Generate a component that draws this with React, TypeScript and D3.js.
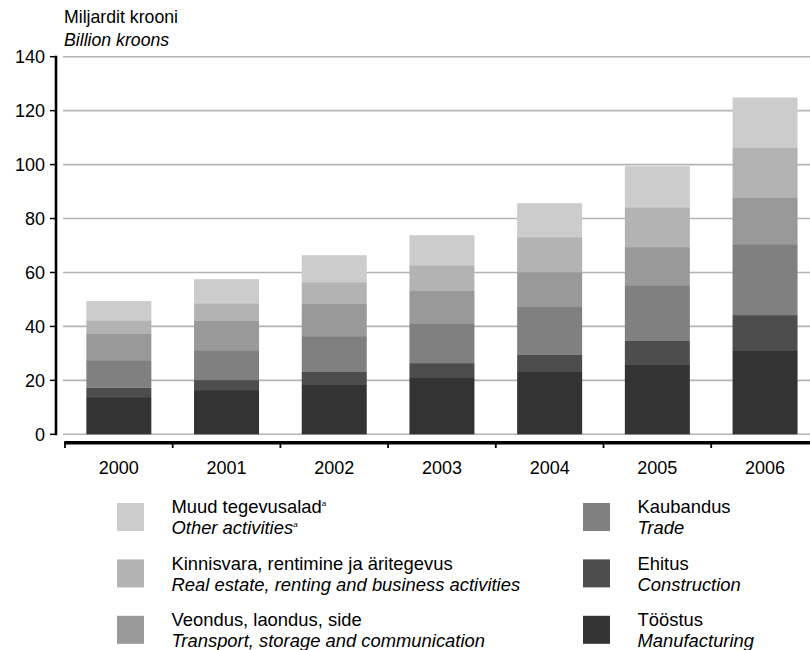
import React from "react";
import * as d3 from "d3";

const years = ["2000", "2001", "2002", "2003", "2004", "2005", "2006"];
const manufacturing = [13.8, 16.4, 18.6, 21.2, 23.1, 26.0, 31.2];
const construction = [3.4, 3.7, 4.5, 5.2, 6.3, 8.6, 13.0];
const trade = [10.3, 11.1, 13.3, 14.8, 17.8, 20.7, 26.3];
const transport = [9.7, 10.8, 11.9, 12.2, 12.9, 14.1, 17.4];
const realEstate = [5.1, 6.6, 8.1, 9.3, 13.0, 14.8, 18.5];
const other = [7.1, 8.9, 10.0, 11.1, 12.6, 15.2, 18.5];
const yTicks = [0, 20, 40, 60, 80, 100, 120, 140];

const seriesKeys = ["manufacturing", "construction", "trade", "transport", "realEstate", "other"];
const seriesValues: Record<string, number[]> = {
  manufacturing, construction, trade, transport, realEstate, other,
};
const colors: Record<string, string> = {
  manufacturing: "#333333",
  construction: "#4d4d4d",
  trade: "#808080",
  transport: "#999999",
  realEstate: "#b3b3b3",
  other: "#cccccc",
};

const legendLeft = [
  { key: "other", et: "Muud tegevusalad", en: "Other activities", sup: true },
  { key: "realEstate", et: "Kinnisvara, rentimine ja äritegevus", en: "Real estate, renting and business activities", sup: false },
  { key: "transport", et: "Veondus, laondus, side", en: "Transport, storage and communication", sup: false },
];
const legendRight = [
  { key: "trade", et: "Kaubandus", en: "Trade", sup: false },
  { key: "construction", et: "Ehitus", en: "Construction", sup: false },
  { key: "manufacturing", et: "Tööstus", en: "Manufacturing", sup: false },
];

const FONT = "'Liberation Sans', Arial, sans-serif";
const FS_TITLE = 17.7;
const FS_AXIS = 18;
const FS_LEG = 18.4;

export default function App() {
  const table = years.map((y, i) => {
    const row: any = { year: y };
    seriesKeys.forEach((k) => (row[k] = seriesValues[k][i]));
    return row;
  });
  const stacked = d3.stack<any>().keys(seriesKeys)(table);

  const step = 107.7;
  const x = d3.scaleBand<string>().domain(years).range([65, 65 + step * years.length]).padding(0);
  const barW = 65;
  const y = d3.scaleLinear().domain([0, 140]).range([434.3, 56.7]);

  const renderLegend = (items: typeof legendLeft, sx: number) =>
    items.map((it, i) => {
      const top = 503 + i * 56.4;
      return (
        <g key={it.key}>
          <rect x={sx} y={top} width={27} height={28} fill={colors[it.key]} />
          <text x={sx + 54.5} y={top + 10.4} fontSize={FS_LEG} fill="#000">
            {it.et}
            {it.sup && <tspan fontSize={8} dy={-7}>a</tspan>}
          </text>
          <text x={sx + 54.5} y={top + 31.4} fontSize={FS_LEG} fontStyle="italic" fill="#000">
            {it.en}
            {it.sup && <tspan fontSize={8} dy={-7}>a</tspan>}
          </text>
        </g>
      );
    });

  return (
    <svg
      width={810}
      height={650}
      style={{ position: "absolute", left: 0, top: 0, background: "#fff" }}
      fontFamily={FONT}
    >
      <rect x={0} y={0} width={810} height={650} fill="#fff" />
      <text x={64} y={22.7} fontSize={FS_TITLE}>Miljardit krooni</text>
      <text x={64} y={46} fontSize={FS_TITLE} fontStyle="italic">Billion kroons</text>

      {yTicks.map((t) => (
        <g key={t}>
          <line x1={63} x2={810} y1={y(t)} y2={y(t)} stroke="#b4b4b4" strokeWidth={1.6} />
          <line x1={50} x2={56} y1={y(t)} y2={y(t)} stroke="#000" strokeWidth={1.5} />
          <text x={45} y={y(t)} dy="0.36em" textAnchor="end" fontSize={FS_AXIS}>{t}</text>
        </g>
      ))}
      <line x1={56} x2={56} y1={y(140) - 1} y2={y(0) + 1} stroke="#000" strokeWidth={2.6} />

      {stacked.map((s) => (
        <g key={s.key} fill={colors[s.key]}>
          {s.map((d, i) => (
            <rect
              key={i}
              x={(x(years[i]) as number) + (x.bandwidth() - barW) / 2}
              y={y(d[1])}
              width={barW}
              height={y(d[0]) - y(d[1])}
            />
          ))}
        </g>
      ))}

      <line x1={64.3} x2={810} y1={442.7} y2={442.7} stroke="#000" strokeWidth={3.5} />
      {years.map((yr) => (
        <g key={yr}>
          <line x1={x(yr) as number} x2={x(yr) as number} y1={442} y2={448} stroke="#000" strokeWidth={1.8} />
          <text x={(x(yr) as number) + x.bandwidth() / 2} y={474} textAnchor="middle" fontSize={FS_AXIS}>{yr}</text>
        </g>
      ))}

      {renderLegend(legendLeft, 117)}
      {renderLegend(legendRight, 583)}
    </svg>
  );
}
